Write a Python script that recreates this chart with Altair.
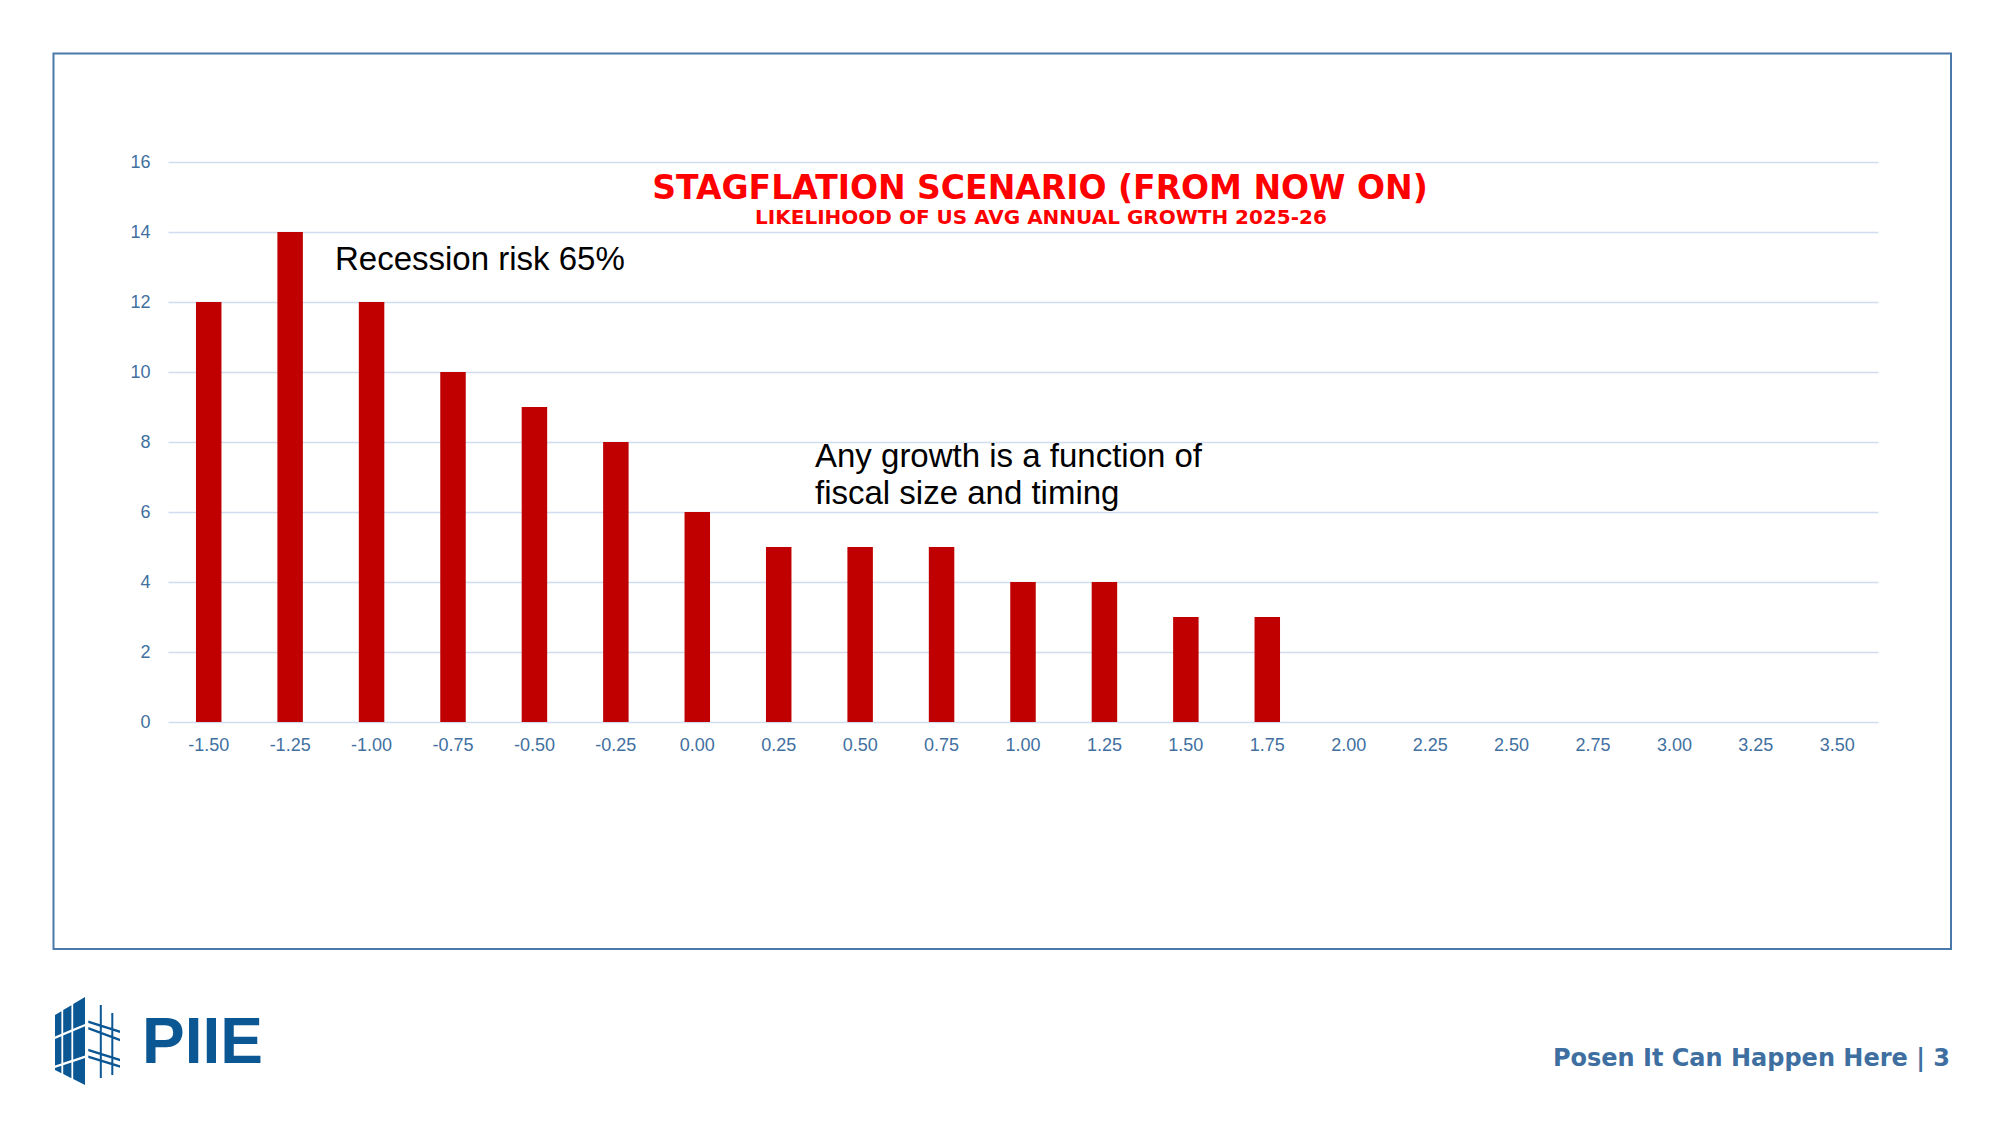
import altair as alt
import pandas as pd

# ---------------- data ----------------
CATEGORIES = ["-1.50", "-1.25", "-1.00", "-0.75", "-0.50", "-0.25", "0.00",
              "0.25", "0.50", "0.75", "1.00", "1.25", "1.50", "1.75",
              "2.00", "2.25", "2.50", "2.75", "3.00", "3.25", "3.50"]
LIKELIHOOD = [12, 14, 12, 10, 9, 8, 6, 5, 5, 5, 4, 4, 3, 3, 0, 0, 0, 0, 0, 0, 0]
Y_TICKS = [0, 2, 4, 6, 8, 10, 12, 14, 16]

TITLE = "STAGFLATION SCENARIO (FROM NOW ON)"
SUBTITLE = "LIKELIHOOD OF US AVG ANNUAL GROWTH 2025-26"
NOTE_1 = ["Recession risk 65%"]
NOTE_2 = ["Any growth is a function of", "fiscal size and timing"]
FOOTER = "Posen It Can Happen Here | 3"
LOGO_TEXT = "PIIE"

# ---------------- layout (pixels) ----------------
W, H = 1710, 560
PAD = {"left": 160, "top": 154, "right": 100, "bottom": 380}
OX, OY = 168, 162  # page position of plot origin

BAR = "#c00000"
RED = "#ff0000"
AXIS_BLUE = "#41709f"
FRAME_BLUE = "#4a78a8"
LOGO_BLUE = "#0b5794"

df = pd.DataFrame({"cat": CATEGORIES, "val": LIKELIHOOD})
one = pd.DataFrame({"a": [0]})

bars = alt.Chart(df).mark_bar(color=BAR).encode(
    x=alt.X("cat:N", sort=CATEGORIES, title=None,
            scale=alt.Scale(paddingInner=0.687, paddingOuter=0.3435),
            axis=alt.Axis(labelAngle=0, labelFont="Liberation Sans", labelFontSize=18,
                          labelColor=AXIS_BLUE, labelPadding=14, ticks=False, tickSize=0,
                          domain=False, grid=False)),
    y=alt.Y("val:Q", title=None, scale=alt.Scale(domain=[0, 16], nice=False),
            axis=alt.Axis(values=Y_TICKS, labelFont="Liberation Sans", labelFontSize=18,
                          labelColor=AXIS_BLUE, labelPadding=18, ticks=False, tickSize=0,
                          domain=False, grid=True, gridColor="#d0ddee", gridWidth=1.5)),
)

def px(x):
    return x - OX

def py(y):
    return y - OY

frame = alt.Chart(one).mark_rect(fill=None, stroke=FRAME_BLUE, strokeWidth=2).encode(
    x=alt.value(px(53.5)), x2=alt.value(px(1951)),
    y=alt.value(py(53.5)), y2=alt.value(py(949)))

def text_layer(s, x, y, size, font, weight="normal", color="black", align="left"):
    return alt.Chart(pd.DataFrame({"t": [s]})).mark_text(
        font=font, fontSize=size, fontWeight=weight, color=color, align=align,
        baseline="alphabetic").encode(text="t:N", x=alt.value(x), y=alt.value(y))

title = text_layer(TITLE, px(1040), py(199), 33, "DejaVu Sans", "bold", RED, "center")
subtitle = text_layer(SUBTITLE, px(1041), py(224), 20, "DejaVu Sans", "bold", RED, "center")
note1 = text_layer(NOTE_1[0], px(335), py(270), 33, "Liberation Sans")
note2a = text_layer(NOTE_2[0], px(815), py(467), 33, "Liberation Sans")
note2b = text_layer(NOTE_2[1], px(815), py(504), 33, "Liberation Sans")
footer = text_layer(FOOTER, px(1950), py(1066), 24, "DejaVu Sans", "bold", "#3e6fa0", "right")
logo_text = text_layer(LOGO_TEXT, px(142), py(1063), 64, "Liberation Sans", "bold", LOGO_BLUE)

# ---------------- logo icon (decoration) as a custom symbol path ----------------
CX, CY, S = 87.5, 1041.0, 44.0

def poly(points):
    pts = ["%.4f,%.4f" % ((x - CX) / S, (y - CY) / S) for x, y in points]
    return "M" + "L".join(pts) + "Z"

def y_top(x):
    return 1015 - 0.6 * (x - 55)

def y_bot(x):
    return 1070 + 0.5 * (x - 55)

def g1(x):
    return 1036.5 - 0.42 * (x - 55)

def g2(x):
    return 1065.5 - 0.33 * (x - 55)

GAP = 2.4
paths = []
for (xa, xb) in [(55, 61.4), (63.2, 71.4), (73.2, 85)]:
    bands = [(y_top, lambda x: g1(x)),
             (lambda x: g1(x) + GAP, lambda x: g2(x)),
             (lambda x: g2(x) + GAP, y_bot)]
    for top, bot in bands:
        paths.append(poly([(xa, top(xa)), (xb, top(xb)), (xb, bot(xb)), (xa, bot(xa))]))

def thick(x1, y1, x2, y2, t):
    return poly([(x1, y1 - t / 2), (x2, y2 - t / 2), (x2, y2 + t / 2), (x1, y1 + t / 2)])

for (ya, yb) in [(1021.7, 1031.7), (1028.3, 1040.0), (1050.0, 1060.0), (1056.7, 1066.5)]:
    paths.append(thick(88.3, ya, 120, yb, 2.6))
paths.append(poly([(99.8, 1005), (101.8, 1005), (101.8, 1078), (99.8, 1078)]))
paths.append(poly([(111.3, 1013), (113.3, 1013), (113.3, 1075), (111.3, 1075)]))
ICON_PATH = " ".join(paths)

icon = alt.Chart(one).mark_point(shape=ICON_PATH, filled=True, fill=LOGO_BLUE,
                                 strokeWidth=0, opacity=1, size=(2 * S) ** 2).encode(
    x=alt.value(px(CX)), y=alt.value(py(CY)))

chart = alt.layer(frame, bars, title, subtitle, note1, note2a, note2b,
                  footer, logo_text, icon).properties(
    width=W, height=H, padding=PAD,
    autosize=alt.AutoSizeParams(type="none"),
    background="white",
).configure_view(stroke=None)

chart.save("out.html", embed_options={"renderer": "svg", "actions": False})
